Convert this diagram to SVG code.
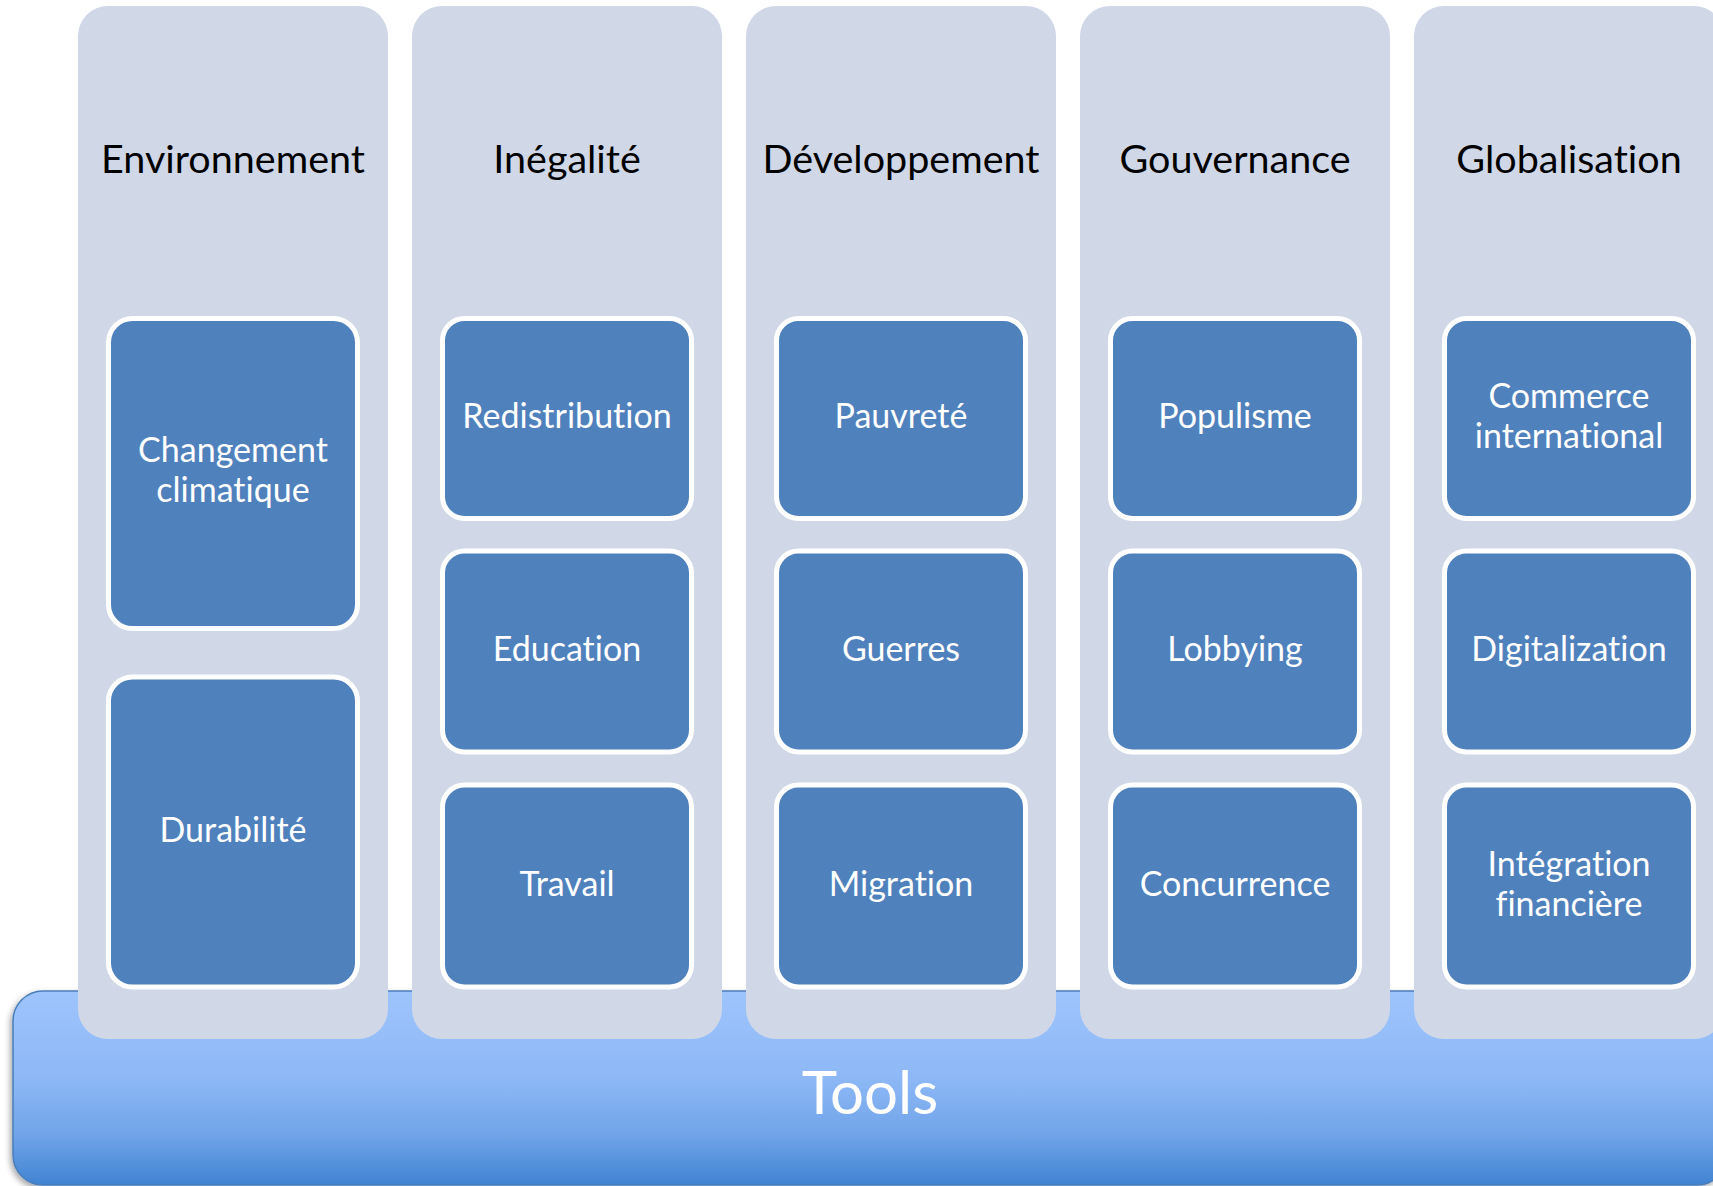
<svg xmlns="http://www.w3.org/2000/svg" width="1713" height="1186" viewBox="0 0 1713 1186">
  <defs>
    <linearGradient id="toolsFill" x1="0" y1="0" x2="0" y2="1">
      <stop offset="0" stop-color="#9EC4FC"/>
      <stop offset="0.45" stop-color="#8DB8F6"/>
      <stop offset="0.75" stop-color="#6FA3E8"/>
      <stop offset="1" stop-color="#4083D2"/>
    </linearGradient>
    <filter id="softShadow" x="-5%" y="-10%" width="110%" height="130%">
      <feGaussianBlur in="SourceAlpha" stdDeviation="3"/>
      <feOffset dx="-2" dy="3" result="blur"/>
      <feComponentTransfer><feFuncA type="linear" slope="0.35"/></feComponentTransfer>
      <feMerge><feMergeNode/><feMergeNode in="SourceGraphic"/></feMerge>
    </filter>
    <style>
      .column { fill: #D0D8E8; }
      .item { fill: #4F81BD; stroke: #FFFFFF; stroke-width: 5; }
      text { font-family: Lato, "Open Sans", sans-serif; font-variant-ligatures: none; font-feature-settings: "liga" 0, "clig" 0; text-anchor: middle; }
      .head { font-size: 39.5px; fill: #000000; }
      .label { font-size: 34px; fill: #FFFFFF; }
      .tools { font-size: 60px; fill: #FFFFFF; }
    </style>
  </defs>

  <!-- base platform -->
  <g id="tools">
    <rect x="13" y="991" width="1714" height="194" rx="30" fill="url(#toolsFill)" stroke="#4A7EBB" stroke-width="1.5" filter="url(#softShadow)"/>
    <text class="tools" x="870" y="1114">Tools</text>
  </g>

  <!-- pillar 1 -->
  <g id="environnement">
    <rect class="column" x="78" y="6" width="310" height="1033" rx="30"/>
    <text class="head" x="233" y="173">Environnement</text>
  </g>
  <g id="changement-climatique">
    <rect class="item" x="108.5" y="318.5" width="249" height="310" rx="24"/>
    <text class="label" x="233" y="462">Changement</text>
    <text class="label" x="233" y="502">climatique</text>
  </g>
  <g id="durabilite">
    <rect class="item" x="108.5" y="677" width="249" height="310" rx="24"/>
    <text class="label" x="233" y="842">Durabilité</text>
  </g>

  <!-- pillar 2 -->
  <g id="inegalite">
    <rect class="column" x="412" y="6" width="310" height="1033" rx="30"/>
    <text class="head" x="567" y="173">Inégalité</text>
  </g>
  <g id="redistribution">
    <rect class="item" x="442.5" y="318.5" width="249" height="200" rx="22"/>
    <text class="label" x="567" y="428">Redistribution</text>
  </g>
  <g id="education">
    <rect class="item" x="442.5" y="551" width="249" height="201" rx="22"/>
    <text class="label" x="567" y="661">Education</text>
  </g>
  <g id="travail">
    <rect class="item" x="442.5" y="785" width="249" height="202" rx="22"/>
    <text class="label" x="567" y="896">Travail</text>
  </g>

  <!-- pillar 3 -->
  <g id="developpement">
    <rect class="column" x="746" y="6" width="310" height="1033" rx="30"/>
    <text class="head" x="901" y="173">Développement</text>
  </g>
  <g id="pauvrete">
    <rect class="item" x="776.5" y="318.5" width="249" height="200" rx="22"/>
    <text class="label" x="901" y="428">Pauvreté</text>
  </g>
  <g id="guerres">
    <rect class="item" x="776.5" y="551" width="249" height="201" rx="22"/>
    <text class="label" x="901" y="661">Guerres</text>
  </g>
  <g id="migration">
    <rect class="item" x="776.5" y="785" width="249" height="202" rx="22"/>
    <text class="label" x="901" y="896">Migration</text>
  </g>

  <!-- pillar 4 -->
  <g id="gouvernance">
    <rect class="column" x="1080" y="6" width="310" height="1033" rx="30"/>
    <text class="head" x="1235" y="173">Gouvernance</text>
  </g>
  <g id="populisme">
    <rect class="item" x="1110.5" y="318.5" width="249" height="200" rx="22"/>
    <text class="label" x="1235" y="428">Populisme</text>
  </g>
  <g id="lobbying">
    <rect class="item" x="1110.5" y="551" width="249" height="201" rx="22"/>
    <text class="label" x="1235" y="661">Lobbying</text>
  </g>
  <g id="concurrence">
    <rect class="item" x="1110.5" y="785" width="249" height="202" rx="22"/>
    <text class="label" x="1235" y="896">Concurrence</text>
  </g>

  <!-- pillar 5 -->
  <g id="globalisation">
    <rect class="column" x="1414" y="6" width="310" height="1033" rx="30"/>
    <text class="head" x="1569" y="173">Globalisation</text>
  </g>
  <g id="commerce-international">
    <rect class="item" x="1444.5" y="318.5" width="249" height="200" rx="22"/>
    <text class="label" x="1569" y="408">Commerce</text>
    <text class="label" x="1569" y="448">international</text>
  </g>
  <g id="digitalization">
    <rect class="item" x="1444.5" y="551" width="249" height="201" rx="22"/>
    <text class="label" x="1569" y="661">Digitalization</text>
  </g>
  <g id="integration-financiere">
    <rect class="item" x="1444.5" y="785" width="249" height="202" rx="22"/>
    <text class="label" x="1569" y="876">Intégration</text>
    <text class="label" x="1569" y="916">financière</text>
  </g>
</svg>
